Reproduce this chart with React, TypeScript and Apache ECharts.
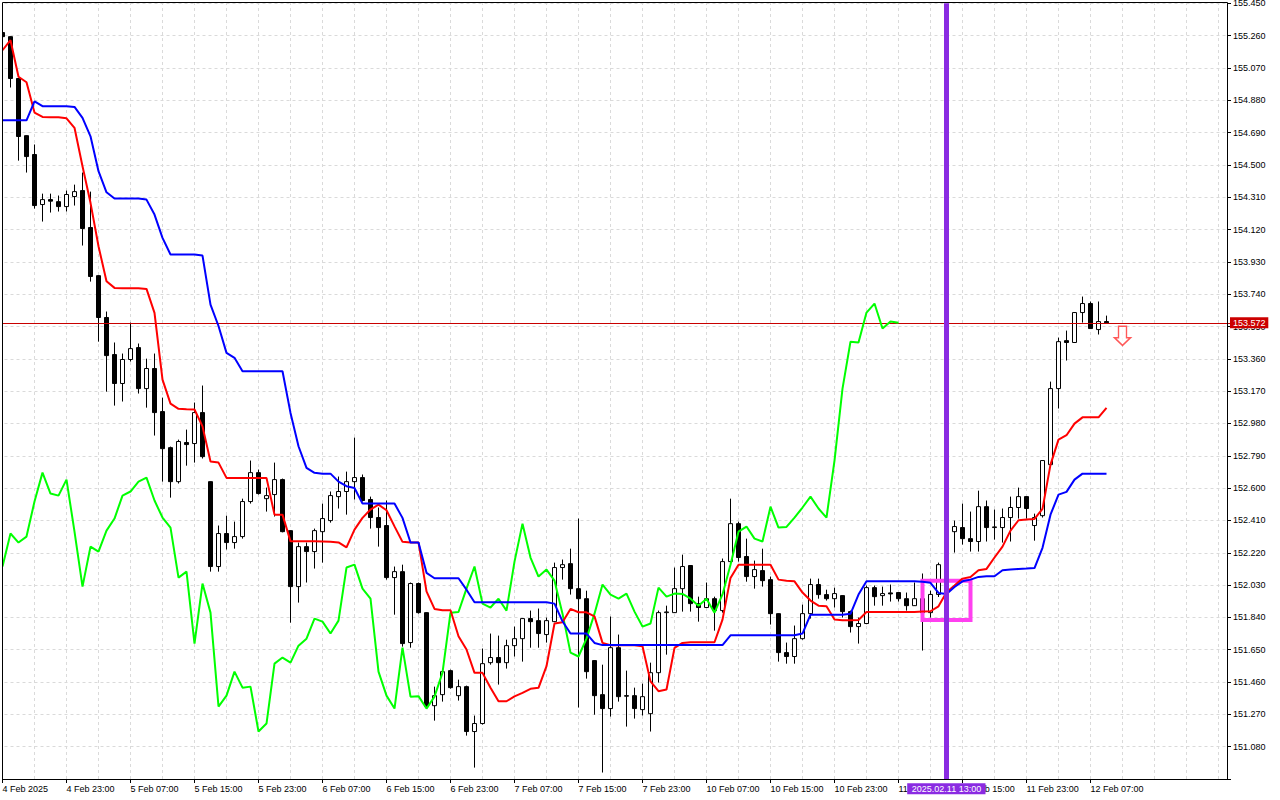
import React, { useEffect, useRef } from "react";
import * as echarts from "echarts";

// ---- x axis tick labels (every 8th hourly bar) ----
const tickLabels = [
  "4 Feb 2025", "4 Feb 23:00", "5 Feb 07:00", "5 Feb 15:00", "5 Feb 23:00", "6 Feb 07:00",
  "6 Feb 15:00", "6 Feb 23:00", "7 Feb 07:00", "7 Feb 15:00", "7 Feb 23:00", "10 Feb 07:00",
  "10 Feb 15:00", "10 Feb 23:00", "11 Feb 07:00", "11 Feb 15:00", "11 Feb 23:00", "12 Feb 07:00",
];
const markerLabel = "2025.02.11 13:00";

// ---- OHLC (USDJPY H1) ----
const opens = [
  155.278, 155.254, 155.008, 154.672, 154.561, 154.267, 154.296, 154.284, 154.255, 154.314,
  154.349, 154.132, 153.849, 153.603, 153.385, 153.215, 153.356, 153.426, 153.185, 153.303,
  153.050, 152.838, 152.638, 152.868, 152.862, 153.044, 152.638, 152.139, 152.333, 152.280,
  152.315, 152.521, 152.691, 152.538, 152.562, 152.650, 152.350, 152.021, 152.256, 152.227,
  152.344, 152.409, 152.550, 152.580, 152.638, 152.662, 152.533, 152.427, 152.380, 152.074,
  152.109, 151.692, 152.039, 151.868, 151.321, 151.386, 151.527, 151.380, 151.433, 151.169,
  151.216, 151.574, 151.604, 151.574, 151.674, 151.715, 151.833, 151.821, 151.739, 151.815,
  152.133, 152.156, 152.009, 151.950, 151.586, 151.386, 151.304, 151.662, 151.380, 151.380,
  151.298, 151.274, 151.515, 151.868, 151.868, 152.009, 152.145, 151.921, 151.898, 151.950,
  151.880, 152.168, 152.391, 152.198, 152.080, 152.115, 152.062, 151.862, 151.633, 151.610,
  151.715, 151.862, 152.033, 151.974, 151.950, 151.968, 151.874, 151.786, 151.804, 152.015,
  151.968, 151.984, 151.986, 151.950, 151.909, 151.950, 151.868, 151.975, 152.150, 152.344,
  152.368, 152.303, 152.286, 152.491, 152.368, 152.368, 152.427, 152.486, 152.550, 152.380,
  152.438, 152.738, 153.185, 153.467, 153.456, 153.632, 153.685, 153.532, 153.579,
];
const highs = [
  155.284, 155.256, 155.010, 154.674, 154.620, 154.331, 154.331, 154.320, 154.349, 154.384,
  154.455, 154.343, 153.852, 153.638, 153.456, 153.391, 153.573, 153.450, 153.361, 153.391,
  153.132, 152.844, 152.885, 152.944, 153.103, 153.203, 152.640, 152.380, 152.438, 152.403,
  152.538, 152.762, 152.709, 152.603, 152.750, 152.656, 152.352, 152.280, 152.280, 152.362,
  152.509, 152.580, 152.668, 152.697, 152.897, 152.680, 152.550, 152.486, 152.527, 152.139,
  152.150, 152.045, 152.045, 151.870, 151.433, 151.539, 151.533, 151.474, 151.439, 151.263,
  151.657, 151.745, 151.733, 151.709, 151.786, 151.835, 151.880, 151.892, 151.839, 152.162,
  152.180, 152.244, 152.421, 151.997, 151.588, 151.562, 151.845, 151.739, 151.527, 151.427,
  151.451, 151.574, 151.880, 151.909, 152.133, 152.209, 152.147, 151.962, 152.045, 151.962,
  152.186, 152.538, 152.403, 152.303, 152.174, 152.244, 152.080, 151.864, 151.692, 151.792,
  151.915, 152.068, 152.068, 152.003, 152.015, 151.970, 151.880, 151.839, 152.027, 152.027,
  152.021, 152.033, 151.988, 151.986, 152.045, 152.098, 151.997, 152.162, 152.360, 152.409,
  152.509, 152.462, 152.585, 152.527, 152.474, 152.480, 152.550, 152.603, 152.552, 152.450,
  152.764, 153.226, 153.485, 153.526, 153.635, 153.726, 153.697, 153.697, 153.614,
];
const lows = [
  155.249, 154.955, 154.525, 154.455, 154.243, 154.167, 154.220, 154.226, 154.226, 154.261,
  154.026, 153.814, 153.461, 153.167, 153.085, 153.109, 153.344, 153.156, 153.073, 152.909,
  152.638, 152.544, 152.627, 152.732, 152.750, 152.774, 152.109, 152.109, 152.239, 152.244,
  152.303, 152.509, 152.562, 152.462, 152.433, 152.340, 151.809, 151.927, 152.045, 152.127,
  152.162, 152.397, 152.480, 152.444, 152.533, 152.521, 152.362, 152.256, 152.062, 151.856,
  151.668, 151.662, 151.862, 151.310, 151.233, 151.345, 151.421, 151.351, 151.145, 150.957,
  151.210, 151.562, 151.445, 151.539, 151.610, 151.580, 151.662, 151.662, 151.692, 151.812,
  152.062, 151.974, 151.310, 151.480, 151.268, 150.928, 151.257, 151.345, 151.198, 151.245,
  151.263, 151.169, 151.457, 151.621, 151.866, 151.874, 151.874, 151.815, 151.895, 151.762,
  151.868, 152.162, 152.168, 152.050, 152.009, 152.021, 151.798, 151.580, 151.568, 151.568,
  151.709, 151.833, 151.950, 151.939, 151.898, 151.839, 151.751, 151.686, 151.800, 151.909,
  151.909, 151.933, 151.933, 151.880, 151.907, 151.645, 151.839, 151.960, 152.110, 152.221,
  152.268, 152.227, 152.227, 152.286, 152.297, 152.280, 152.286, 152.421, 152.421, 152.291,
  152.427, 152.735, 153.068, 153.350, 153.454, 153.573, 153.536, 153.503, 153.570,
];
const closes = [
  155.254, 155.008, 154.667, 154.549, 154.261, 154.296, 154.287, 154.255, 154.326, 154.343,
  154.126, 153.844, 153.603, 153.379, 153.215, 153.356, 153.420, 153.185, 153.303, 153.044,
  152.832, 152.638, 152.874, 152.856, 153.044, 152.785, 152.139, 152.333, 152.280, 152.315,
  152.521, 152.691, 152.568, 152.556, 152.650, 152.344, 152.021, 152.256, 152.227, 152.350,
  152.421, 152.556, 152.580, 152.638, 152.662, 152.527, 152.427, 152.368, 152.074, 152.109,
  151.686, 152.039, 151.868, 151.316, 151.380, 151.521, 151.427, 151.433, 151.169, 151.216,
  151.568, 151.604, 151.574, 151.674, 151.715, 151.833, 151.815, 151.745, 151.821, 152.133,
  152.150, 152.009, 151.950, 151.521, 151.380, 151.304, 151.662, 151.374, 151.377, 151.304,
  151.374, 151.515, 151.868, 151.872, 152.009, 152.139, 151.921, 151.898, 151.950, 151.880,
  152.168, 152.391, 152.192, 152.080, 152.121, 152.056, 151.862, 151.633, 151.610, 151.715,
  151.862, 152.033, 151.974, 151.950, 151.980, 151.874, 151.786, 151.804, 152.015, 151.962,
  151.980, 151.978, 151.950, 151.909, 151.950, 151.868, 151.975, 152.150, 152.344, 152.374,
  152.303, 152.286, 152.491, 152.368, 152.372, 152.427, 152.486, 152.550, 152.480, 152.427,
  152.762, 153.185, 153.461, 153.456, 153.632, 153.685, 153.538, 153.579, 153.572,
];

// ---- Ichimoku lines ----
const tenkan = [
  155.174, 155.233, 155.018, 154.986, 154.808, 154.782, 154.780, 154.780, 154.774, 154.718,
  154.492, 154.277, 154.022, 153.816, 153.777, 153.775, 153.775, 153.775, 153.771, 153.630,
  153.238, 153.097, 153.066, 153.063, 153.062, 152.963, 152.756, 152.750, 152.660, 152.660,
  152.660, 152.660, 152.660, 152.660, 152.444, 152.444, 152.287, 152.287, 152.287, 152.287,
  152.286, 152.284, 152.281, 152.252, 152.356, 152.425, 152.474, 152.503, 152.470, 152.375,
  152.284, 152.281, 152.281, 151.993, 151.890, 151.882, 151.882, 151.729, 151.651, 151.514,
  151.514, 151.426, 151.347, 151.347, 151.376, 151.396, 151.420, 151.426, 151.553, 151.804,
  151.811, 151.890, 151.870, 151.870, 151.846, 151.690, 151.676, 151.676, 151.676, 151.676,
  151.670, 151.464, 151.406, 151.416, 151.661, 151.690, 151.694, 151.694, 151.694, 151.694,
  151.827, 152.072, 152.150, 152.150, 152.150, 152.150, 152.150, 152.062, 152.056, 152.052,
  151.986, 151.939, 151.909, 151.905, 151.827, 151.823, 151.823, 151.825, 151.872, 151.872,
  151.872, 151.872, 151.872, 151.872, 151.872, 151.874, 151.876, 151.905, 151.988, 152.027,
  152.068, 152.078, 152.117, 152.125, 152.192, 152.256, 152.350, 152.411, 152.415, 152.419,
  152.478, 152.738, 152.885, 152.911, 152.979, 153.016, 153.016, 153.016, 153.072,
];
const kijun = [
  154.762, 154.762, 154.762, 154.762, 154.874, 154.845, 154.845, 154.845, 154.845, 154.841,
  154.777, 154.668, 154.463, 154.339, 154.302, 154.302, 154.302, 154.302, 154.296, 154.208,
  154.071, 153.973, 153.973, 153.973, 153.973, 153.967, 153.679, 153.553, 153.395, 153.366,
  153.287, 153.287, 153.287, 153.287, 153.287, 153.287, 153.042, 152.846, 152.719, 152.690,
  152.685, 152.685, 152.638, 152.611, 152.601, 152.509, 152.509, 152.509, 152.509, 152.509,
  152.425, 152.280, 152.280, 152.102, 152.070, 152.070, 152.070, 152.070, 152.003, 151.929,
  151.929, 151.929, 151.929, 151.929, 151.929, 151.929, 151.929, 151.929, 151.929, 151.921,
  151.817, 151.745, 151.745, 151.745, 151.690, 151.677, 151.677, 151.677, 151.677, 151.677,
  151.677, 151.677, 151.677, 151.677, 151.677, 151.677, 151.677, 151.677, 151.677, 151.677,
  151.677, 151.735, 151.735, 151.735, 151.735, 151.735, 151.735, 151.735, 151.735, 151.735,
  151.745, 151.856, 151.856, 151.856, 151.856, 151.856, 151.861, 151.974, 152.052, 152.052,
  152.052, 152.052, 152.052, 152.052, 152.052, 152.049, 152.043, 151.984, 151.978, 152.019,
  152.052, 152.062, 152.078, 152.082, 152.082, 152.117, 152.121, 152.125, 152.127, 152.130,
  152.249, 152.444, 152.562, 152.578, 152.650, 152.685, 152.685, 152.685, 152.685,
];
const chikouShift = 26;

// ---- annotations ----
const currentPrice = 153.572;
const markerIndex = 118;
const boxStart = 115;
const boxEnd = 121;
const boxTop = 152.055;
const boxBottom = 151.825;
const arrowIndex = 140;
const arrowPrice = 153.495;

// ---- axis settings ----
const totalSlots = 154;
const yMin = 150.89;
const yMax = 155.45;
const yStep = 0.19;

const FONT = "'Liberation Sans', Arial, sans-serif";

export default function App() {
  const ref = useRef<HTMLDivElement>(null);

  useEffect(() => {
    document.body.style.margin = "0";
    const chart = echarts.init(ref.current as HTMLDivElement, null, { renderer: "svg" });
    const categories = Array.from({ length: totalSlots }, (_, i) => String(i));
    const candleData = opens.map((o, i) => [o, closes[i], lows[i], highs[i]]);
    const chikou = closes.slice(chikouShift);
    const gridLines: any[] = [];
    for (let i = 4; i < totalSlots; i += 4) gridLines.push({ xAxis: i });
    const showTick = (i: number) => i % 8 === 0 && i / 8 < tickLabels.length;

    chart.setOption({
      animation: false,
      grid: { left: -1.5, top: 3.3, width: 1232, height: 775.7, outerBoundsMode: "none" },
      xAxis: {
        type: "category",
        data: categories,
        boundaryGap: true,
        axisLine: { show: false },
        axisTick: { show: true, alignWithLabel: true, length: 4, interval: showTick, lineStyle: { color: "#000" } },
        axisLabel: {
          show: true,
          interval: showTick,
          formatter: (_v: string, i: number) => tickLabels[i / 8] ?? "",
          align: "left",
          margin: 5,
          color: "#000",
          fontSize: 9,
          fontFamily: FONT,
        },
        splitLine: { show: false },
      },
      yAxis: {
        type: "value",
        position: "right",
        offset: -3.5,
        min: yMin,
        max: yMax,
        interval: yStep,
        axisLine: { show: false },
        axisTick: { show: true, length: 4, lineStyle: { color: "#000" } },
        axisLabel: {
          formatter: (v: number) => (v < 151 ? "" : v.toFixed(3)),
          margin: 6,
          padding: [3, 0, 0, 0],
          color: "#000",
          fontSize: 9,
          fontFamily: FONT,
        },
        splitLine: { show: true, lineStyle: { color: "#dadada", type: [3, 3], width: 1 } },
      },
      series: [
        {
          type: "line",
          data: [],
          silent: true,
          markLine: {
            silent: true,
            z: 1,
            symbol: ["none", "none"],
            label: { show: false },
            emphasis: { disabled: true },
            lineStyle: { color: "#dadada", type: [3, 3], width: 1 },
            data: gridLines,
          },
        },
        {
          type: "candlestick",
          data: candleData,
          barWidth: 4,
          z: 2,
          silent: true,
          itemStyle: {
            color: "#ffffff",
            color0: "#000000",
            borderColor: "#000000",
            borderColor0: "#000000",
            borderColorDoji: "#000000",
            borderWidth: 1,
          },
          markLine: {
            silent: true,
            z: 3,
            symbol: ["none", "none"],
            label: { show: false },
            emphasis: { disabled: true },
            lineStyle: { color: "#c80000", width: 1, type: "solid" },
            data: [{ yAxis: currentPrice }],
          },
        },
        {
          type: "line",
          data: [],
          silent: true,
          markArea: {
            silent: true,
            z: 3,
            itemStyle: { color: "rgba(0,0,0,0)", borderColor: "#ff40f0", borderWidth: 4 },
            data: [[{ xAxis: boxStart, yAxis: boxTop }, { xAxis: boxEnd, yAxis: boxBottom }]],
          },
        },
        {
          type: "line",
          name: "Chikou",
          data: chikou,
          symbol: "none",
          z: 4,
          silent: true,
          lineStyle: { color: "#00ff00", width: 2 },
          itemStyle: { color: "#00ff00" },
        },
        {
          type: "line",
          name: "Tenkan",
          data: tenkan,
          symbol: "none",
          z: 4,
          silent: true,
          lineStyle: { color: "#ff0000", width: 2 },
          itemStyle: { color: "#ff0000" },
        },
        {
          type: "line",
          name: "Kijun",
          data: kijun,
          symbol: "none",
          z: 4,
          silent: true,
          lineStyle: { color: "#0000ff", width: 2 },
          itemStyle: { color: "#0000ff" },
        },
        {
          type: "line",
          data: [],
          silent: true,
          markLine: {
            silent: true,
            z: 10,
            symbol: ["none", "none"],
            label: { show: false },
            emphasis: { disabled: true },
            lineStyle: { color: "#8a2be2", width: 5, type: "solid" },
            data: [{ xAxis: markerIndex }],
          },
        },
        {
          type: "scatter",
          data: [[arrowIndex, arrowPrice]],
          silent: true,
          z: 6,
          symbol: "path://M4 0L12 0L12 11.5L16 11.5L8 19.3L0 11.5L4 11.5Z",
          symbolSize: [16, 19.3],
          itemStyle: { color: "#ffffff", borderColor: "#ff3030", borderWidth: 1.5 },
        },
      ],
    });

    const px = chart.convertToPixel({ xAxisIndex: 0 }, markerIndex) as number;
    const py = chart.convertToPixel({ yAxisIndex: 0 }, currentPrice) as number;

    chart.setOption({
      graphic: {
        elements: [
          {
            type: "rect",
            z: 99,
            silent: true,
            shape: { x: 0, y: 0, width: 2, height: 800 },
            style: { fill: "#ffffff" },
          },
          {
            type: "rect",
            z: 100,
            silent: true,
            shape: { x: 2.5, y: 2.5, width: 1225, height: 777 },
            style: { fill: "none", stroke: "#000000", lineWidth: 1 },
          },
          {
            type: "rect",
            z: 100,
            silent: true,
            shape: { x: px - 39.3, y: 783.3, width: 78.3, height: 11 },
            style: { fill: "#8a2be2" },
          },
          {
            type: "text",
            z: 101,
            silent: true,
            x: px,
            y: 789,
            style: {
              text: markerLabel,
              fill: "#ffffff",
              font: `9px ${FONT}`,
              align: "center",
              verticalAlign: "middle",
              textAlign: "center",
              textVerticalAlign: "middle",
            },
          },
          {
            type: "rect",
            z: 100,
            silent: true,
            shape: { x: 1230, y: py - 5.4, width: 38.3, height: 10.8 },
            style: { fill: "#cc0000" },
          },
          {
            type: "text",
            z: 101,
            silent: true,
            x: 1233,
            y: py,
            style: {
              text: currentPrice.toFixed(3),
              fill: "#ffffff",
              font: `9px ${FONT}`,
              align: "left",
              verticalAlign: "middle",
              textAlign: "left",
              textVerticalAlign: "middle",
            },
          },
        ],
      },
    });

    return () => chart.dispose();
  }, []);

  return <div ref={ref} style={{ width: 1280, height: 800 }} />;
}
